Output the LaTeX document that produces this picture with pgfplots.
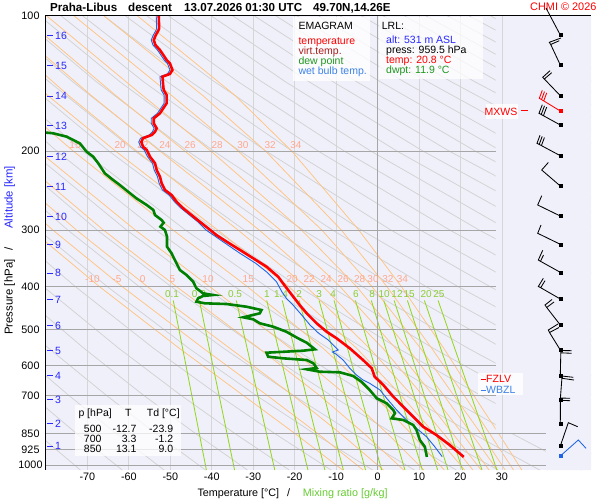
\documentclass[border=0pt]{standalone}
\usepackage{fontspec}
\setmainfont{Liberation Sans}
\usepackage{pgfplots}
\pgfplotsset{compat=1.18}
\definecolor{bgc}{RGB}{240,240,251}
\definecolor{gridv}{RGB}{214,214,214}
\definecolor{gridh}{RGB}{166,166,166}
\definecolor{dryc}{RGB}{210,210,210}
\definecolor{moistc}{RGB}{255,196,128}
\definecolor{moistl}{RGB}{255,168,140}
\definecolor{mixc}{RGB}{150,215,30}
\definecolor{mixl}{RGB}{140,205,50}
\definecolor{tc}{RGB}{255,0,0}
\definecolor{tdc}{RGB}{0,128,0}
\definecolor{twc}{RGB}{30,100,230}
\definecolor{altc}{RGB}{40,40,255}
\definecolor{vtc}{RGB}{170,30,30}
\definecolor{dpl}{RGB}{30,150,30}
\definecolor{wbl}{RGB}{60,130,230}
\definecolor{xlg}{RGB}{102,204,51}
\newcommand\fs[1]{\fontsize{#1bp}{#1bp}\selectfont}
\begin{document}
\begin{tikzpicture}[x=1bp,y=1bp]
\path[use as bounding box, fill=white] (0,0) rectangle (600,500);
\begin{axis}[
  at={(46bp,30bp)}, anchor=south west, scale only axis,
  width=545bp, height=454bp,
  xmin=-80, xmax=51.5, ymin=100, ymax=1026,
  ymode=log, y dir=reverse,
  axis line style={draw=none},
  axis background/.style={fill=bgc},
  clip mode=individual,
  major tick length=0pt,
  xtick={-70,-60,-50,-40,-30,-20,-10,0,10,20,30},
  xticklabels={-70,-60,-50,-40,-30,-20,-10,0,10,20,30},
  ytick={100,200,300,400,500,600,700,850,925,1000},
  yticklabels={100,200,300,400,500,600,700,850,925,1000},
  xticklabel style={font=\fs{10.8}, anchor=north, inner sep=0pt, yshift=-3bp},
  yticklabel style={font=\fs{10.8}, anchor=center, inner sep=0pt, xshift=-15.5bp},
  dry/.style={dryc, line width=0.75bp},
  moist/.style={moistc, line width=0.75bp},
  mix/.style={mixc, line width=0.85bp},
]
% vertical grid
\pgfplotsinvokeforeach{-70,-60,-50,-40,-30,-20,-10,10,20}{
  \addplot[gridv, line width=0.8bp] coordinates {(#1,100)(#1,1026)};
}
% dry adiabats (theta = 200 ... 580 K)
\addplot[dry] coordinates {(-71.7,1026)(-82.2,850)};
\addplot[dry] coordinates {(-61.6,1026)(-72.7,850)(-83.5,700)};
\addplot[dry] coordinates {(-51.5,1026)(-63.1,850)(-74.5,700)(-87.7,550)};
\addplot[dry] coordinates {(-41.5,1026)(-53.6,850)(-65.4,700)(-79.3,550)(-96.1,400)};
\addplot[dry] coordinates {(-31.4,1026)(-44.0,850)(-56.4,700)(-70.8,550)(-88.4,400)};
\addplot[dry] coordinates {(-21.3,1026)(-34.5,850)(-47.4,700)(-62.4,550)(-80.7,400)};
\addplot[dry] coordinates {(-11.2,1026)(-24.9,850)(-38.3,700)(-54.0,550)(-73.0,400)(-88.8,300)};
\addplot[dry] coordinates {(-1.2,1026)(-15.4,850)(-29.3,700)(-45.5,550)(-65.3,400)(-81.7,300)};
\addplot[dry] coordinates {(8.9,1026)(-5.9,850)(-20.3,700)(-37.1,550)(-57.6,400)(-74.7,300)(-96.4,200)};
\addplot[dry] coordinates {(19.0,1026)(3.7,850)(-11.2,700)(-28.7,550)(-49.9,400)(-67.6,300)(-90.0,200)};
\addplot[dry] coordinates {(29.1,1026)(13.2,850)(-2.2,700)(-20.3,550)(-42.2,400)(-60.5,300)(-83.7,200)};
\addplot[dry] coordinates {(39.1,1026)(22.8,850)(6.8,700)(-11.8,550)(-34.6,400)(-53.4,300)(-77.4,200)(-96.4,140)};
\addplot[dry] coordinates {(49.2,1026)(32.3,850)(15.8,700)(-3.4,550)(-26.9,400)(-46.3,300)(-71.1,200)(-90.7,140)};
\addplot[dry] coordinates {(59.3,1026)(41.9,850)(24.9,700)(5.0,550)(-19.2,400)(-39.2,300)(-64.8,200)(-85.0,140)};
\addplot[dry] coordinates {(51.4,850)(33.9,700)(13.5,550)(-11.5,400)(-32.1,300)(-58.5,200)(-79.3,140)(-97.0,100)};
\addplot[dry] coordinates {(42.9,700)(21.9,550)(-3.8,400)(-25.0,300)(-52.2,200)(-73.6,140)(-91.9,100)};
\addplot[dry] coordinates {(52.0,700)(30.3,550)(3.9,400)(-17.9,300)(-45.8,200)(-67.9,140)(-86.7,100)};
\addplot[dry] coordinates {(61.0,700)(38.8,550)(11.6,400)(-10.8,300)(-39.5,200)(-62.2,140)(-81.5,100)};
\addplot[dry] coordinates {(47.2,550)(19.3,400)(-3.8,300)(-33.2,200)(-56.5,140)(-76.3,100)};
\addplot[dry] coordinates {(55.6,550)(27.0,400)(3.3,300)(-26.9,200)(-50.8,140)(-71.1,100)};
\addplot[dry] coordinates {(64.0,550)(34.7,400)(10.4,300)(-20.6,200)(-45.1,140)(-66.0,100)};
\addplot[dry] coordinates {(42.4,400)(17.5,300)(-14.3,200)(-39.4,140)(-60.8,100)};
\addplot[dry] coordinates {(50.1,400)(24.6,300)(-8.0,200)(-33.7,140)(-55.6,100)};
\addplot[dry] coordinates {(57.8,400)(31.7,300)(-1.6,200)(-28.0,140)(-50.4,100)};
\addplot[dry] coordinates {(38.8,300)(4.7,200)(-22.3,140)(-45.2,100)};
\addplot[dry] coordinates {(45.9,300)(11.0,200)(-16.6,140)(-40.1,100)};
\addplot[dry] coordinates {(53.0,300)(17.3,200)(-10.8,140)(-34.9,100)};
\addplot[dry] coordinates {(60.0,300)(23.6,200)(-5.1,140)(-29.7,100)};
\addplot[dry] coordinates {(67.1,300)(29.9,200)(0.6,140)(-24.5,100)};
\addplot[dry] coordinates {(36.2,200)(6.3,140)(-19.4,100)};
\addplot[dry] coordinates {(42.6,200)(12.0,140)(-14.2,100)};
\addplot[dry] coordinates {(48.9,200)(17.7,140)(-9.0,100)};
\addplot[dry] coordinates {(55.2,200)(23.4,140)(-3.8,100)};
\addplot[dry] coordinates {(61.5,200)(29.1,140)(1.4,100)};
\addplot[dry] coordinates {(67.8,200)(34.8,140)(6.5,100)};
\addplot[dry] coordinates {(74.1,200)(40.5,140)(11.7,100)};
\addplot[dry] coordinates {(80.4,200)(46.2,140)(16.9,100)};
\addplot[dry] coordinates {(86.7,200)(51.9,140)(22.1,100)};
\addplot[dry] coordinates {(93.0,200)(57.6,140)(27.3,100)};
% saturated adiabats (theta_w = -10 ... 34 C)
\addplot[moist] coordinates {(-8.4,1026)(-20.0,850)(-32.4,700)(-47.8,550)(-67.2,400)(-83.4,300)};
\addplot[moist] coordinates {(-3.5,1026)(-14.5,850)(-26.6,700)(-42.0,550)(-61.7,400)(-78.3,300)(-99.6,200)};
\addplot[moist] coordinates {(1.4,1026)(-9.0,850)(-20.4,700)(-35.6,550)(-55.6,400)(-72.6,300)(-94.6,200)};
\addplot[moist] coordinates {(6.3,1026)(-3.3,850)(-14.0,700)(-28.6,550)(-48.6,400)(-66.1,300)(-88.7,200)};
\addplot[moist] coordinates {(11.2,1026)(2.3,850)(-7.5,700)(-21.0,550)(-40.6,400)(-58.4,300)(-81.8,200)};
\addplot[moist] coordinates {(16.1,1026)(8.0,850)(-0.8,700)(-13.1,550)(-31.5,400)(-49.3,300)(-73.4,200)(-89.2,150)};
\addplot[moist] coordinates {(21.0,1026)(13.6,850)(5.7,700)(-5.0,550)(-21.5,400)(-38.5,300)(-63.2,200)(-79.7,150)(-100.8,100)};
\addplot[moist] coordinates {(23.0,1026)(15.9,850)(8.3,700)(-1.9,550)(-17.3,400)(-33.6,300)(-58.1,200)(-74.7,150)(-96.3,100)};
\addplot[moist] coordinates {(25.0,1026)(18.1,850)(10.9,700)(1.3,550)(-13.2,400)(-28.5,300)(-52.5,200)(-69.2,150)(-91.3,100)};
\addplot[moist] coordinates {(26.9,1026)(20.4,850)(13.4,700)(4.4,550)(-9.1,400)(-23.4,300)(-46.5,200)(-63.3,150)(-85.8,100)};
\addplot[moist] coordinates {(28.9,1026)(22.6,850)(16.0,700)(7.3,550)(-5.1,400)(-18.3,300)(-40.2,200)(-56.8,150)(-79.8,100)};
\addplot[moist] coordinates {(30.8,1026)(24.9,850)(18.4,700)(10.4,550)(-1.4,400)(-13.4,300)(-33.6,200)(-49.8,150)(-73.2,100)};
\addplot[moist] coordinates {(32.8,1026)(27.0,850)(20.9,700)(13.1,550)(2.2,400)(-8.7,300)(-27.0,200)(-42.3,150)(-66.0,100)};
\addplot[moist] coordinates {(34.8,1026)(29.2,850)(23.2,700)(16.0,550)(5.7,400)(-4.5,300)(-20.7,200)(-34.5,150)(-57.9,100)};
% mixing ratio lines
\addplot[mix] coordinates {(-49.3,430)(-41.3,1026)};
\addplot[mix] coordinates {(-43.0,430)(-34.5,1026)};
\addplot[mix] coordinates {(-34.1,430)(-24.8,1026)};
\addplot[mix] coordinates {(-26.75,430)(-16.8,1026)};
\addplot[mix] coordinates {(-23.0,430)(-12.7,1026)};
\addplot[mix] coordinates {(-18.9,430)(-8.25,1026)};
\addplot[mix] coordinates {(-14.1,430)(-2.9,1026)};
\addplot[mix] coordinates {(-10.5,430)(1.0,1026)};
\addplot[mix] coordinates {(-5.35,430)(6.6,1026)};
\addplot[mix] coordinates {(-1.5,430)(10.8,1026)};
\addplot[mix] coordinates {(1.5,430)(14.5,1026)};
\addplot[mix] coordinates {(4.0,430)(17.0,1026)};
\addplot[mix] coordinates {(7.2,430)(20.5,1026)};
\addplot[mix] coordinates {(11.3,430)(25.2,1026)};
\addplot[mix] coordinates {(14.6,430)(28.8,1026)};
% diagram area limit on the right
\fill[bgc] (axis cs:28.5,100) -- (axis cs:51.5,100) -- (axis cs:51.5,1026) -- (axis cs:40.6,1026) -- (axis cs:40.6,850) -- (axis cs:28.5,850) -- cycle;
\addplot[gridv, line width=0.8bp] coordinates {(30,100)(30,1026)};
% isobars
\pgfplotsinvokeforeach{200,300,400,500,600,700}{
  \addplot[gridh, line width=0.9bp] coordinates {(-80,#1)(28.5,#1)};
}
\pgfplotsinvokeforeach{850,925,1000}{
  \addplot[gridh, line width=0.9bp] coordinates {(-80,#1)(40.6,#1)};
}
\addplot[gridh, line width=0.9bp] coordinates {(0,100)(0,1026)};
% labels of the saturated adiabats
\begin{scope}[every node/.style={font=\fs{10}, text=moistl, inner sep=0pt}]
\node at (axis cs:-73.0,193.8) {15};
\node at (axis cs:-62.1,193.8) {20};
\node at (axis cs:-56.6,193.8) {22};
\node at (axis cs:-51.3,193.8) {24};
\node at (axis cs:-45.2,193.8) {26};
\node at (axis cs:-38.7,193.8) {28};
\node at (axis cs:-32.5,193.8) {30};
\node at (axis cs:-25.9,193.8) {32};
\node at (axis cs:-19.7,193.8) {34};
\node at (axis cs:-68.8,385.3) {-10};
\node at (axis cs:-62.9,385.3) {-5};
\node at (axis cs:-56.7,385.3) {0};
\node at (axis cs:-49.5,385.3) {5};
\node at (axis cs:-40.9,385.3) {10};
\node at (axis cs:-31.2,385.3) {15};
\node at (axis cs:-20.6,385.3) {20};
\node at (axis cs:-16.5,385.3) {22};
\node at (axis cs:-12.4,385.3) {24};
\node at (axis cs:-8.3,385.3) {26};
\node at (axis cs:-4.3,385.3) {28};
\node at (axis cs:-1.1,385.3) {30};
\node at (axis cs:2.5,385.3) {32};
\node at (axis cs:6.0,385.3) {34};
\end{scope}
\begin{scope}[every node/.style={font=\fs{10}, text=mixl, inner sep=0pt}]
\node at (axis cs:-49.6,416.1) {0.1};
\node at (axis cs:-43.1,416.1) {0.2};
\node at (axis cs:-34.4,416.1) {0.5};
\node at (axis cs:-26.7,416.1) {1};
\node at (axis cs:-23.3,416.1) {1.4};
\node at (axis cs:-18.9,416.1) {2};
\node at (axis cs:-14.1,416.1) {3};
\node at (axis cs:-10.7,416.1) {4};
\node at (axis cs:-5.2,416.1) {6};
\node at (axis cs:-1.3,416.1) {8};
\node at (axis cs:1.6,416.1) {10};
\node at (axis cs:4.7,416.1) {12};
\node at (axis cs:7.6,416.1) {15};
\node at (axis cs:11.7,416.1) {20};
\node at (axis cs:14.8,416.1) {25};
\end{scope}
% wet bulb temperature
\addplot[twc, line width=0.9bp] coordinates {(-53.4,100)(-53.3,106.5)(-53.5,107.8)(-54.1,110.2)(-54.6,113.1)(-54.2,116.0)(-53.1,119.1)(-52.3,122.1)(-51.5,125.3)(-50.7,127.5)(-50.1,131.9)(-50.7,134.6)(-52.5,136.5)(-52.3,143.7)(-52.2,146.2)(-51.5,149.9)(-51.5,156.5)(-52.3,160.5)(-53.1,164.7)(-54.6,169.0)(-54.6,173.4)(-53.9,177.9)(-54.3,181.0)(-55.1,184.1)(-57.2,187.2)(-57.6,190.8)(-57.2,195.5)(-56.3,198.8)(-55.5,205.8)(-54.3,212.8)(-53.9,220.3)(-53.1,228.0)(-52.7,235.8)(-51.9,244.1)(-50.3,250.4)(-49.0,259.2)(-47.4,268.1)(-45.4,277.5)(-43.4,287.2)(-41.4,299.6)(-37.3,318.2)(-33.2,337.7)(-29.4,355.5)(-26.7,372.0)(-24.4,390.6)(-23.1,411.2)(-22.0,425.4)(-20.4,440.2)(-18.3,463.4)(-16.3,487.7)(-14.2,509.0)(-11.9,526.7)(-10.7,540.4)(-9.5,554.5)(-10.9,560.2)(-9.9,567.4)(-8.3,583.7)(-6.7,609.1)(-5.1,630.3)(-3.5,646.7)(-1.9,657.8)(0.6,680.7)(2.2,710.4)(4.6,754.3)(7.0,794.0)(9.4,828.5)(11.8,864.9)(13.8,910.4)(15.6,958.3)};
% dew point
\addplot[tdc, line width=2.6bp] coordinates {(-81,181.5)(-78.3,182.5)(-75.0,185.7)(-71.8,192.3)(-70.2,200.6)(-68.6,205.8)(-67.4,212.8)(-65.8,224.1)(-63.8,231.9)(-62.2,237.9)(-60.2,246.2)(-58.2,254.7)(-55.7,263.6)(-54.1,270.4)(-53.7,277.5)(-52.1,284.7)(-51.6,288.6)(-52.4,294.6)(-51.3,299.6)(-50.8,310.1)(-50.8,326.5)(-49.7,337.7)(-48.9,349.5)(-47.7,367.9)(-46.1,377.4)(-44.5,390.6)(-43.7,404.1)(-42.1,414.6)(-39.7,418.2)(-42.1,420.3)(-43.3,425.4)(-43.7,432.8)(-41.7,436.4)(-36.4,438.0)(-31.6,444.1)(-28.0,451.7)(-28.4,459.3)(-32.4,468.9)(-30.0,473.7)(-28.4,483.5)(-25.2,492.0)(-22.0,504.8)(-19.2,522.1)(-17.1,534.1)(-15.1,552.5)(-18.0,556.5)(-26.8,562.2)(-26.4,573.9)(-22.8,578.6)(-17.1,583.7)(-15.5,593.6)(-14.7,608.1)(-17.1,612.2)(-13.9,619.8)(-9.1,621.7)(-5.9,633.5)(-3.9,652.3)(-1.9,680.7)(-0.2,710.4)(2.2,728.8)(3.8,754.3)(4.2,767.1)(3.4,787.1)(6.2,794.0)(8.6,814.5)(9.4,835.7)(10.2,879.8)(11.4,910.4)(11.9,959.5)};
% temperature
\addplot[tc, line width=2.6bp] coordinates {(-52.8,100)(-52.7,106.5)(-52.9,107.8)(-53.5,110.2)(-54.0,113.1)(-53.6,116.0)(-52.5,119.1)(-51.7,122.1)(-50.9,125.3)(-50.1,127.5)(-49.5,131.9)(-50.1,134.6)(-51.9,136.5)(-51.7,143.7)(-51.6,146.2)(-50.9,149.9)(-50.9,156.5)(-51.7,160.5)(-52.5,164.7)(-54.0,169.0)(-54.0,173.4)(-53.3,177.9)(-53.7,181.0)(-54.5,184.1)(-56.6,187.2)(-57.0,190.8)(-56.6,195.5)(-55.7,198.8)(-54.9,205.8)(-53.7,212.8)(-53.3,220.3)(-52.5,228.0)(-52.1,235.8)(-51.3,244.1)(-49.7,250.4)(-48.5,259.2)(-46.9,268.1)(-44.9,277.5)(-42.9,287.2)(-40.9,297.0)(-38.9,307.4)(-36.4,318.2)(-33.2,332.0)(-30.0,346.5)(-26.8,361.7)(-24.0,380.7)(-22.2,400.8)(-18.8,440.2)(-17.1,459.3)(-14.7,483.5)(-12.3,504.8)(-9.9,522.1)(-6.7,549.7)(-3.5,583.7)(-1.4,609.1)(-0.7,635.8)(1.4,663.5)(3.8,704.6)(6.2,741.6)(8.6,780.6)(11.0,821.7)(14.2,857.4)(17.4,902.5)(20.8,959.5)};
\end{axis}
% ---------- overlay in picture pixels ----------
\begin{axis}[at={(0bp,0bp)}, anchor=south west, scale only axis,
  width=600bp, height=500bp, xmin=0, xmax=600, ymin=0, ymax=500,
  y dir=reverse, hide axis, clip=false]
\draw[black, line width=1bp] (axis cs:45,16) -- (axis cs:591,16);
\draw[black, line width=1bp] (axis cs:45.5,16) -- (axis cs:45.5,470);
% title
\node[anchor=base west, inner sep=0pt, font=\fs{11.6}\bfseries] at (axis cs:50,11.5) {Praha-Libus};
\node[anchor=base west, inner sep=0pt, font=\fs{11.6}\bfseries] at (axis cs:128,11.5) {descent};
\node[anchor=base west, inner sep=0pt, font=\fs{11.6}\bfseries] at (axis cs:184,11.5) {13.07.2026 01:30 UTC};
\node[anchor=base west, inner sep=0pt, font=\fs{11.6}\bfseries] at (axis cs:313,11.5) {49.70N,14.26E};
\node[anchor=base west, inner sep=0pt, font=\fs{10.9}, text=tc] at (axis cs:530,11) {CHMI © 2026};
% axis titles
\node[anchor=base west, inner sep=0pt, font=\fs{10.8}] at (axis cs:197.3,496.5) {Temperature [°C]};
\node[anchor=base west, inner sep=0pt, font=\fs{10.8}] at (axis cs:287,496.5) {/};
\node[anchor=base west, inner sep=0pt, font=\fs{10.8}, text=xlg] at (axis cs:302.7,496.5) {Mixing ratio [g/kg]};
\node[anchor=base west, inner sep=0pt, font=\fs{11.4}, rotate=90] at (axis cs:12.5,335) {Pressure [hPa]};
\node[anchor=base west, inner sep=0pt, font=\fs{11.4}, rotate=90] at (axis cs:12.5,251) {/};
\node[anchor=base west, inner sep=0pt, font=\fs{11.4}, rotate=90, text=altc] at (axis cs:12.5,229) {Altitude [km]};
% altitude marks
\begin{scope}[every node/.style={anchor=west, inner sep=0pt, font=\fs{10.5}, text=altc}]
\draw[altc, line width=1.1bp] (axis cs:47,35.5)--(axis cs:53,35.5);  \node at (axis cs:55,35.5) {16};
\draw[altc, line width=1.1bp] (axis cs:47,65.8)--(axis cs:53,65.8);  \node at (axis cs:55,65.8) {15};
\draw[altc, line width=1.1bp] (axis cs:47,96.2)--(axis cs:53,96.2);  \node at (axis cs:55,96.2) {14};
\draw[altc, line width=1.1bp] (axis cs:47,125.8)--(axis cs:53,125.8); \node at (axis cs:55,125.8) {13};
\draw[altc, line width=1.1bp] (axis cs:47,156.8)--(axis cs:53,156.8); \node at (axis cs:55,156.8) {12};
\draw[altc, line width=1.1bp] (axis cs:47,186.7)--(axis cs:53,186.7); \node at (axis cs:55,186.7) {11};
\draw[altc, line width=1.1bp] (axis cs:47,216.7)--(axis cs:53,216.7); \node at (axis cs:55,216.7) {10};
\draw[altc, line width=1.1bp] (axis cs:47,244.7)--(axis cs:53,244.7); \node at (axis cs:55,244.7) {9};
\draw[altc, line width=1.1bp] (axis cs:47,273.2)--(axis cs:53,273.2); \node at (axis cs:55,273.2) {8};
\draw[altc, line width=1.1bp] (axis cs:47,299.8)--(axis cs:53,299.8); \node at (axis cs:55,299.8) {7};
\draw[altc, line width=1.1bp] (axis cs:47,325.5)--(axis cs:53,325.5); \node at (axis cs:55,325.5) {6};
\draw[altc, line width=1.1bp] (axis cs:47,350.7)--(axis cs:53,350.7); \node at (axis cs:55,350.7) {5};
\draw[altc, line width=1.1bp] (axis cs:47,375.8)--(axis cs:53,375.8); \node at (axis cs:55,375.8) {4};
\draw[altc, line width=1.1bp] (axis cs:47,399.7)--(axis cs:53,399.7); \node at (axis cs:55,399.7) {3};
\draw[altc, line width=1.1bp] (axis cs:47,423.8)--(axis cs:53,423.8); \node at (axis cs:55,423.8) {2};
\draw[altc, line width=1.1bp] (axis cs:47,446.3)--(axis cs:53,446.3); \node at (axis cs:55,446.3) {1};
\end{scope}
% legend box
\fill[white, fill opacity=0.8] (axis cs:293,17) rectangle (axis cs:370,81);
\begin{scope}[every node/.style={anchor=base west, inner sep=0pt, font=\fs{10.5}}]
\node at (axis cs:298.3,30) {EMAGRAM};
\node[text=tc] at (axis cs:298.3,45) {temperature};
\node[text=vtc] at (axis cs:298.3,55) {virt.temp.};
\node[text=dpl] at (axis cs:298.3,65) {dew point};
\node[text=wbl] at (axis cs:298.3,75) {wet bulb temp.};
\end{scope}
% LRL box
\fill[white, fill opacity=0.75] (axis cs:379,17) rectangle (axis cs:483,79);
\begin{scope}[every node/.style={anchor=base west, inner sep=0pt, font=\fs{10.5}}]
\node at (axis cs:381.7,30) {LRL:};
\node[text=altc] at (axis cs:386,43.3) {alt: 531 m ASL};
\node at (axis cs:386,53.3) {press: 959.5 hPa};
\node[text=tc] at (axis cs:386,63.3) {temp: 20.8 °C};
\node[text=dpl] at (axis cs:386,73.3) {dwpt: 11.9 °C};
\end{scope}
% table box
\fill[white, fill opacity=0.75] (axis cs:75,405) rectangle (axis cs:181,456);
\begin{scope}[every node/.style={inner sep=0pt, font=\fs{10.5}}]
\node[anchor=base west] at (axis cs:78.3,416.5) {p [hPa]};
\node[anchor=base west] at (axis cs:125,416.5) {T};
\node[anchor=base west] at (axis cs:146.7,416.5) {Td [°C]};
\node[anchor=base east] at (axis cs:101.7,432) {500};
\node[anchor=base east] at (axis cs:136.7,432) {-12.7};
\node[anchor=base east] at (axis cs:173.3,432) {-23.9};
\node[anchor=base east] at (axis cs:101.7,442) {700};
\node[anchor=base east] at (axis cs:136.7,442) {3.3};
\node[anchor=base east] at (axis cs:173.3,442) {-1.2};
\node[anchor=base east] at (axis cs:101.7,452) {850};
\node[anchor=base east] at (axis cs:136.7,452) {13.1};
\node[anchor=base east] at (axis cs:173.3,452) {9.0};
\end{scope}
% FZLV / WBZL
\fill[white, fill opacity=0.8] (axis cs:478,373) rectangle (axis cs:523,394.5);
\draw[tc, line width=1bp] (axis cs:480.5,379.3) -- (axis cs:485.5,379.3);
\node[anchor=west, inner sep=0pt, font=\fs{10.5}, text=tc] at (axis cs:486,379.3) {FZLV};
\draw[wbl, line width=1bp] (axis cs:480.5,390) -- (axis cs:485.5,390);
\node[anchor=west, inner sep=0pt, font=\fs{10.5}, text=wbl] at (axis cs:486,390) {WBZL};
% MXWS
\fill[white, fill opacity=0.8] (axis cs:486,104) rectangle (axis cs:518,119);
\node[anchor=east, inner sep=0pt, font=\fs{10.5}, text=tc] at (axis cs:517.5,111.5) {MXWS};
\draw[tc, line width=1bp] (axis cs:521,111) -- (axis cs:528,111);
% wind barbs
\addplot[black, line width=0.85bp] coordinates {(560.3,35)(546,8)};
\addplot[black, line width=0.85bp] coordinates {(560.3,65)(550.7,44.5)(559.3,40.7)(550.7,44.5)(549.3,42.3)(561,38)};
\addplot[black, line width=0.85bp] coordinates {(560.3,95.7)(544.3,79)(551.7,72.7)(544.3,79)(542.7,77.3)(550,70.7)};
\addplot[tc, line width=0.85bp] coordinates {(560.3,111)(543.7,100.9)(546.7,92.9)(543.7,100.9)(541.5,99.6)(544.5,91.6)(541.5,99.6)(539.3,98.3)(542.3,90.3)};
\addplot[black, line width=0.85bp] coordinates {(560.3,125)(543.4,115.7)(546.7,107.1)(543.4,115.7)(541.2,114.5)(544.5,105.9)(541.2,114.5)(539,113.3)(542.3,104.7)};
\addplot[black, line width=0.85bp] coordinates {(560.3,155.7)(541.4,145.6)(544.4,137.6)(541.4,145.6)(539.2,144.4)(542.2,136.4)(539.2,144.4)(537,143.3)(540,135.3)};
\addplot[black, line width=0.85bp] coordinates {(560.3,186)(541.7,170)(548.3,162.5)};
\addplot[black, line width=0.85bp] coordinates {(560.3,216)(537.7,205)(541.7,195.7)};
\addplot[black, line width=0.85bp] coordinates {(560.3,244.3)(537.7,233.3)(541,225)};
\addplot[black, line width=0.85bp] coordinates {(560.3,272.3)(540.5,261.3)(543.5,255)(540.5,261.3)(538.3,260)(542.7,250.3)};
\addplot[black, line width=0.85bp] coordinates {(560.3,299)(540.7,287.7)(545,280.7)(540.7,287.7)(538.3,286.5)(543.3,278.3)};
\addplot[black, line width=0.85bp] coordinates {(560.3,325)(546.7,307.5)(554,302)(546.7,307.5)(545,305)(552,299.5)};
\addplot[black, line width=0.85bp] coordinates {(560.3,350)(549.5,332.5)(559,327.5)(549.5,332.5)(548.3,330)(558,324)};
\addplot[black, line width=0.85bp] coordinates {(560.3,375.3)(560.8,352.8)(571.7,353.3)(560.8,352.8)(560.5,350.5)(571.7,350.7)};
\addplot[black, line width=0.85bp] coordinates {(560.3,399.3)(561.9,378.3)(574,380)(561.9,378.3)(561.7,376)(573.3,377.3)};
\addplot[black, line width=0.85bp] coordinates {(560.3,423.3)(560.4,400.3)(570,400.7)(560.4,400.3)(560.3,398)(570,398.3)};
\addplot[black, line width=0.85bp] coordinates {(560.3,446)(568.3,422.7)(577.7,426.7)};
\addplot[twc, line width=0.85bp] coordinates {(560.3,456)(578.3,440)(586,448.3)};
\addplot[only marks, mark=square*, mark size=1.4bp, black] coordinates {(560.3,35)(560.3,65)(560.3,95.7)(560.3,125)(560.3,155.7)(560.3,186)(560.3,216)(560.3,244.3)(560.3,272.3)(560.3,299)(560.3,325)(560.3,350)(560.3,375.3)(560.3,399.3)(560.3,423.3)(560.3,446)};
\addplot[only marks, mark=square*, mark size=1.4bp, tc] coordinates {(560.3,111)};
\addplot[only marks, mark=square*, mark size=1.4bp, twc] coordinates {(560.3,456)};
\end{axis}
\end{tikzpicture}
\end{document}
